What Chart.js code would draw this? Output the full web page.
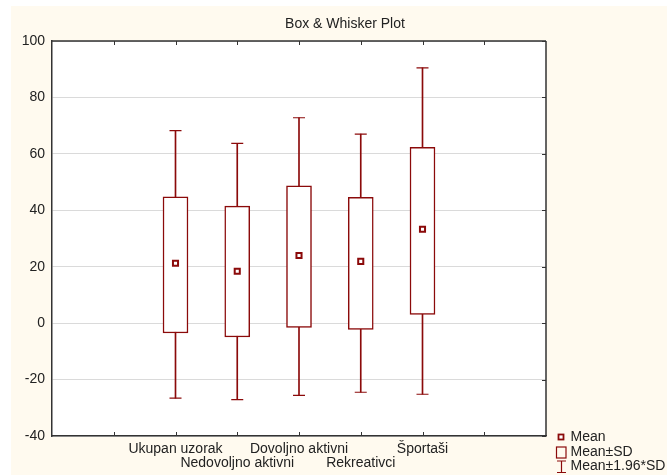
<!DOCTYPE html>
<html>
<head>
<meta charset="utf-8">
<script src="https://cdn.jsdelivr.net/npm/chart.js@4.4.1/dist/chart.umd.min.js"></script>
<style>
    html, body { margin: 0; padding: 0; background: #ffffff; }
    #wrap { width: 667px; height: 475px; position: relative; }
</style>
</head>
<body>
<div id="wrap"><canvas id="boxChart"></canvas></div>
<script>
// values
const categories = ['Ukupan uzorak', 'Nedovoljno aktivni', 'Dovoljno aktivni', 'Rekreativci', 'Športaši'];
const means = [21.2, 18.4, 24.0, 21.9, 33.3];
const sdLow = [-3.5, -4.9, -1.5, -2.2, 3.1];
const sdHigh = [44.8, 41.5, 48.7, 44.6, 62.3];
const ciLow = [-26.6, -27.1, -25.6, -24.5, -25.2];
const ciHigh = [68.2, 63.7, 72.8, 67.0, 90.5];
const yTicks = [-40, -20, 0, 20, 40, 60, 80, 100];
const legendItems = ['Mean', 'Mean±SD', 'Mean±1.96*SD'];

const darkRed = '#8b0a0a';
const lead = 2;   // empty slots on each side of the categories
const labels = ['', ''].concat(categories, ['', '']);

function pad(values) {
    return [null, null].concat(values, [null, null]);
}

function ranges(lo, hi) {
    return pad(lo.map((v, i) => [v, hi[i]]));
}

Chart.defaults.font.family = '"Liberation Sans", Arial, sans-serif';
Chart.defaults.font.size = 14;
Chart.defaults.color = '#222';

const framePlugin = {
    id: 'frame',
    beforeDraw(chart) {
        const ctx = chart.ctx;
        const a = chart.chartArea;
        ctx.save();
        ctx.fillStyle = '#ffffff';
        ctx.fillRect(0, 0, chart.width, chart.height);
        ctx.fillStyle = '#fffaef';
        ctx.fillRect(11, 6, chart.width - 11, chart.height - 6);
        ctx.fillStyle = '#ffffff';
        ctx.fillRect(a.left, a.top, a.right - a.left, a.bottom - a.top);
        ctx.restore();
    },
    afterDraw(chart) {
        const ctx = chart.ctx;
        const a = chart.chartArea;
        const x = chart.scales.x;
        const y = chart.scales.y;
        ctx.save();
        ctx.strokeStyle = '#333';
        ctx.lineWidth = 1.5;
        ctx.beginPath();
        ctx.moveTo(a.left, a.top);
        ctx.lineTo(a.right, a.top);
        ctx.moveTo(a.right, a.top);
        ctx.lineTo(a.right, a.bottom);
        ctx.stroke();

        // inner tick marks
        ctx.lineWidth = 1;
        ctx.beginPath();
        for (let i = 1; i < labels.length - 1; i++) {
            const px = Math.round(x.getPixelForValue(i)) + 0.5;
            ctx.moveTo(px, a.top);
            ctx.lineTo(px, a.top + 4);
            ctx.moveTo(px, a.bottom);
            ctx.lineTo(px, a.bottom - 4);
        }
        for (const t of yTicks) {
            const py = Math.round(y.getPixelForValue(t)) + 0.5;
            ctx.moveTo(a.right, py);
            ctx.lineTo(a.right - 4, py);
        }
        ctx.stroke();

        // title
        ctx.fillStyle = '#222';
        ctx.font = '14px "Liberation Sans", Arial, sans-serif';
        ctx.textAlign = 'center';
        ctx.textBaseline = 'middle';
        ctx.fillText('Box & Whisker Plot', 345, 24);

        // legend
        const lx = 561;
        const rows = [437, 452, 466.5];
        ctx.textAlign = 'left';
        ctx.strokeStyle = darkRed;
        ctx.lineWidth = 1.8;
        ctx.fillStyle = '#ffffff';
        ctx.fillRect(lx - 2.5, rows[0] - 2.5, 5, 5);
        ctx.strokeRect(lx - 2.5, rows[0] - 2.5, 5, 5);
        ctx.lineWidth = 1.2;
        ctx.strokeRect(556.5, rows[1] - 5, 9.5, 11);
        ctx.beginPath();
        ctx.moveTo(557, rows[2] - 5.5);
        ctx.lineTo(566, rows[2] - 5.5);
        ctx.moveTo(561.5, rows[2] - 5.5);
        ctx.lineTo(561.5, rows[2] + 6);
        ctx.moveTo(557, rows[2] + 6);
        ctx.lineTo(566, rows[2] + 6);
        ctx.stroke();
        ctx.fillStyle = '#222';
        legendItems.forEach((txt, i) => ctx.fillText(txt, 570.5, rows[i]));
        ctx.restore();
    }
};

const ctx = document.getElementById('boxChart').getContext('2d');
const chart = new Chart(ctx, {
    type: 'bar',
    data: {
        labels: labels,
        datasets: [{
            type: 'line',
            label: 'Mean',
            data: pad(means),
            showLine: false,
            pointStyle: 'rect',
            pointRadius: 3.6,
            pointBackgroundColor: '#ffffff',
            pointBorderColor: darkRed,
            pointBorderWidth: 2,
            order: 0
        }, {
            label: 'Mean±SD',
            data: ranges(sdLow, sdHigh),
            backgroundColor: '#ffffff',
            borderColor: darkRed,
            borderWidth: 1.5,
            borderSkipped: false,
            barThickness: 25,
            grouped: false,
            order: 1
        }, {
            type: 'line',
            label: 'caps',
            data: pad(ciHigh),
            showLine: false,
            pointStyle: 'line',
            pointRadius: 6,
            pointBorderColor: darkRed,
            pointBorderWidth: 1.2,
            order: 2
        }, {
            type: 'line',
            label: 'caps low',
            data: pad(ciLow),
            showLine: false,
            pointStyle: 'line',
            pointRadius: 6,
            pointBorderColor: darkRed,
            pointBorderWidth: 1.2,
            order: 2
        }, {
            label: 'Mean±1.96*SD',
            data: ranges(ciLow, ciHigh),
            backgroundColor: darkRed,
            borderWidth: 0,
            barThickness: 1,
            grouped: false,
            order: 3
        }]
    },
    options: {
        responsive: true,
        maintainAspectRatio: false,
        animation: false,
        layout: {
            padding: { top: 41, right: 121, left: 0, bottom: 0 }
        },
        plugins: {
            legend: { display: false },
            title: { display: false },
            tooltip: { enabled: false }
        },
        scales: {
            x: {
                offset: false,
                grid: { display: false, drawTicks: false },
                border: { display: true, color: '#333', width: 1.5 },
                afterFit(scale) { scale.height = 39; },
                ticks: {
                    autoSkip: false,
                    maxRotation: 0,
                    minRotation: 0,
                    padding: 6,
                    font: { size: 14, lineHeight: 1.0 },
                    callback(value, index) {
                        const name = labels[index];
                        if (!name) return '';
                        return (index - lead) % 2 === 0 ? [name] : ['', name];
                    }
                }
            },
            y: {
                min: -40,
                max: 100,
                grid: { color: '#dadada', lineWidth: 1, drawTicks: false },
                border: { display: true, color: '#333', width: 1.5 },
                afterFit(scale) { scale.width = 52; },
                afterBuildTicks(scale) {
                    scale.ticks = yTicks.map(v => ({ value: v }));
                },
                ticks: {
                    padding: 7,
                    font: { size: 14 }
                }
            }
        }
    },
    plugins: [framePlugin]
});
</script>
</body>
</html>
